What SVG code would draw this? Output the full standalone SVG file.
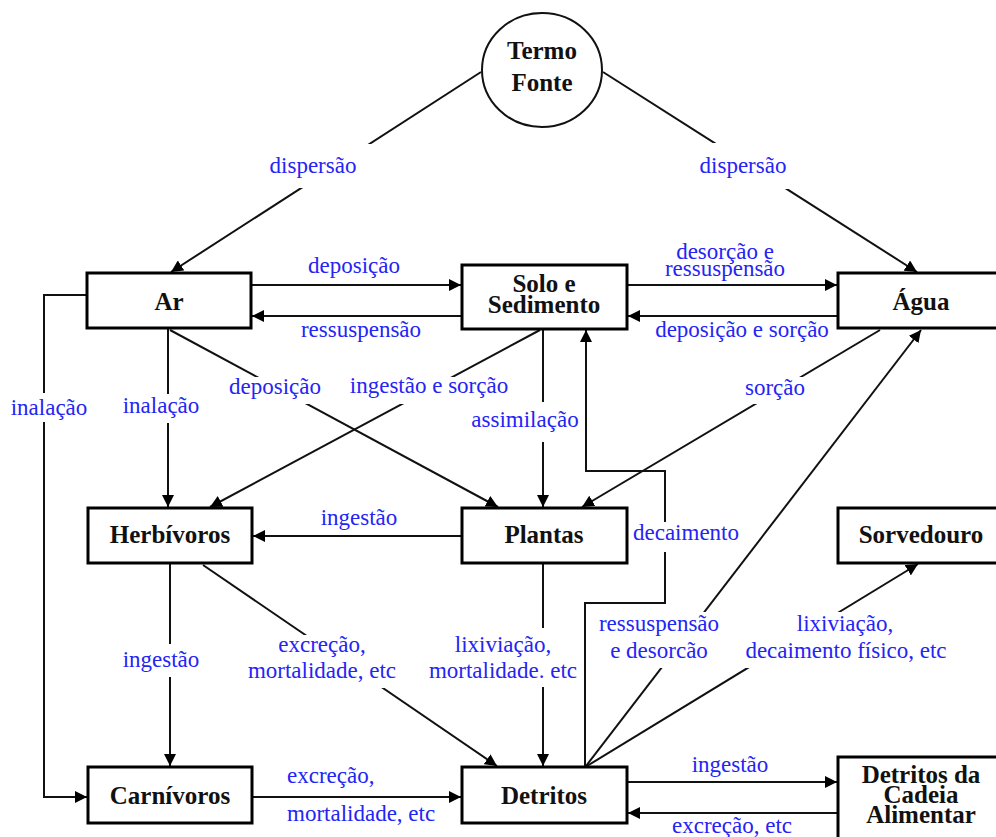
<svg xmlns="http://www.w3.org/2000/svg" width="996" height="837" viewBox="0 0 996 837">
<defs>
<marker id="arr" markerUnits="userSpaceOnUse" markerWidth="13" markerHeight="12" refX="12" refY="6" orient="auto">
<path d="M0,0 L12,6 L0,12 z" fill="#000"/>
</marker>
<style>
.box{fill:#fff;stroke:#000;stroke-width:3}
.nt{font-family:"Liberation Serif","Times New Roman",serif;font-weight:bold;font-size:25px;fill:#111;text-anchor:middle}
.c{fill:none;stroke:#111;stroke-width:2}
.a{marker-end:url(#arr)}
.lb{font-family:"Liberation Serif","Times New Roman",serif;font-size:23px;fill:#2424f5;text-anchor:middle}
.bg{fill:#fff}
</style>
</defs>
<rect width="996" height="837" fill="#fff"/>
<g id="connectors">
<line class="c a" x1="481" y1="72" x2="171" y2="272"/>
<line class="c a" x1="603" y1="72" x2="917" y2="272"/>
<line class="c a" x1="252" y1="285" x2="461" y2="285"/>
<line class="c a" x1="461" y1="316" x2="252" y2="316"/>
<line class="c a" x1="628" y1="285" x2="837" y2="285"/>
<line class="c a" x1="837" y1="316" x2="628" y2="316"/>
<polyline class="c a" points="87,295 44,295 44,797 87,797"/>
<line class="c a" x1="168" y1="329" x2="168" y2="507"/>
<line class="c a" x1="170" y1="330" x2="498" y2="507"/>
<line class="c a" x1="540" y1="330" x2="210" y2="507"/>
<line class="c a" x1="543" y1="330" x2="543" y2="507"/>
<line class="c a" x1="880" y1="330" x2="582" y2="507"/>
<line class="c a" x1="461" y1="536" x2="253" y2="536"/>
<line class="c a" x1="170" y1="564" x2="170" y2="766"/>
<line class="c a" x1="203" y1="565" x2="497" y2="766"/>
<line class="c a" x1="543" y1="564" x2="543" y2="766"/>
<line class="c a" x1="253" y1="797" x2="461" y2="797"/>
<polyline class="c a" points="585,767 585,603 665,603 665,471 586,471 586,330"/>
<line class="c a" x1="586" y1="766" x2="921" y2="330"/>
<line class="c a" x1="587" y1="766" x2="918" y2="564"/>
<line class="c a" x1="628" y1="782" x2="837" y2="782"/>
<line class="c a" x1="837" y1="813" x2="628" y2="813"/>
<!-- label backgrounds breaking lines -->
<rect class="bg" x="265" y="144" width="107" height="44"/>
<rect class="bg" x="698" y="143" width="94" height="46"/>
<rect class="bg" x="10" y="393" width="80" height="29"/>
<rect class="bg" x="121" y="394" width="80" height="29"/>
<rect class="bg" x="228" y="377" width="94" height="27"/>
<rect class="bg" x="348" y="377" width="164" height="27"/>
<rect class="bg" x="470" y="402" width="110" height="40"/>
<rect class="bg" x="743" y="377" width="65" height="27"/>
<rect class="bg" x="631" y="522" width="110" height="30"/>
<rect class="bg" x="121" y="644" width="80" height="33"/>
<rect class="bg" x="245" y="635" width="155" height="53"/>
<rect class="bg" x="428" y="628" width="152" height="59"/>
<rect class="bg" x="597" y="612" width="123" height="56"/>
<rect class="bg" x="743" y="612" width="206" height="56"/>
<!-- labels -->
<text class="lb" x="313" y="173">dispersão</text>
<text class="lb" x="743" y="173">dispersão</text>
<text class="lb" x="354" y="273">deposição</text>
<text class="lb" x="361" y="337">ressuspensão</text>
<text class="lb" x="725" y="259">desorção e</text>
<text class="lb" x="725" y="276">ressuspensão</text>
<text class="lb" x="742" y="337">deposição e sorção</text>
<text class="lb" x="49" y="415">inalação</text>
<text class="lb" x="161" y="413">inalação</text>
<text class="lb" x="275" y="394">deposição</text>
<text class="lb" x="429" y="393">ingestão e sorção</text>
<text class="lb" x="525" y="427">assimilação</text>
<text class="lb" x="775" y="395">sorção</text>
<text class="lb" x="359" y="525">ingestão</text>
<text class="lb" x="686" y="540">decaimento</text>
<text class="lb" x="161" y="667">ingestão</text>
<text class="lb" x="322" y="652">excreção,</text>
<text class="lb" x="322" y="678">mortalidade, etc</text>
<text class="lb" x="503" y="652">lixiviação,</text>
<text class="lb" x="503" y="678">mortalidade. etc</text>
<text class="lb" x="659" y="631">ressuspensão</text>
<text class="lb" x="659" y="658">e desorcão</text>
<text class="lb" x="845" y="631">lixiviação,</text>
<text class="lb" x="846" y="658">decaimento físico, etc</text>
<text class="lb" x="287" y="783" style="text-anchor:start">excreção,</text>
<text class="lb" x="287" y="821" style="text-anchor:start">mortalidade, etc</text>
<text class="lb" x="730" y="772">ingestão</text>
<text class="lb" x="732" y="833">excreção, etc</text>
</g>
<g id="termo-fonte">
<ellipse cx="542" cy="70" rx="60" ry="57" fill="#fff" stroke="#111" stroke-width="2"/>
<text class="nt" x="542" y="59">Termo</text>
<text class="nt" x="542" y="91">Fonte</text>
</g>
<g id="ar">
<rect class="box" x="87" y="273" width="164" height="55"/>
<text class="nt" x="169" y="310">Ar</text>
</g>
<g id="solo">
<rect class="box" x="462" y="265" width="165" height="64"/>
<text class="nt" x="544" y="292">Solo e</text>
<text class="nt" x="544" y="313">Sedimento</text>
</g>
<g id="agua">
<rect class="box" x="838" y="273" width="170" height="55"/>
<text class="nt" x="921" y="310">Água</text>
</g>
<g id="herbivoros">
<rect class="box" x="88" y="508" width="164" height="55"/>
<text class="nt" x="170" y="543">Herbívoros</text>
</g>
<g id="plantas">
<rect class="box" x="462" y="508" width="165" height="55"/>
<text class="nt" x="544" y="543">Plantas</text>
</g>
<g id="sorvedouro">
<rect class="box" x="838" y="508" width="170" height="55"/>
<text class="nt" x="921" y="543">Sorvedouro</text>
</g>
<g id="carnivoros">
<rect class="box" x="88" y="767" width="164" height="56"/>
<text class="nt" x="170" y="804">Carnívoros</text>
</g>
<g id="detritos">
<rect class="box" x="462" y="767" width="165" height="56"/>
<text class="nt" x="544" y="804">Detritos</text>
</g>
<g id="detritos-cadeia">
<rect class="box" x="838" y="757" width="170" height="100"/>
<text class="nt" x="921" y="783">Detritos da</text>
<text class="nt" x="921" y="803">Cadeia</text>
<text class="nt" x="921" y="823">Alimentar</text>
</g>
</svg>
